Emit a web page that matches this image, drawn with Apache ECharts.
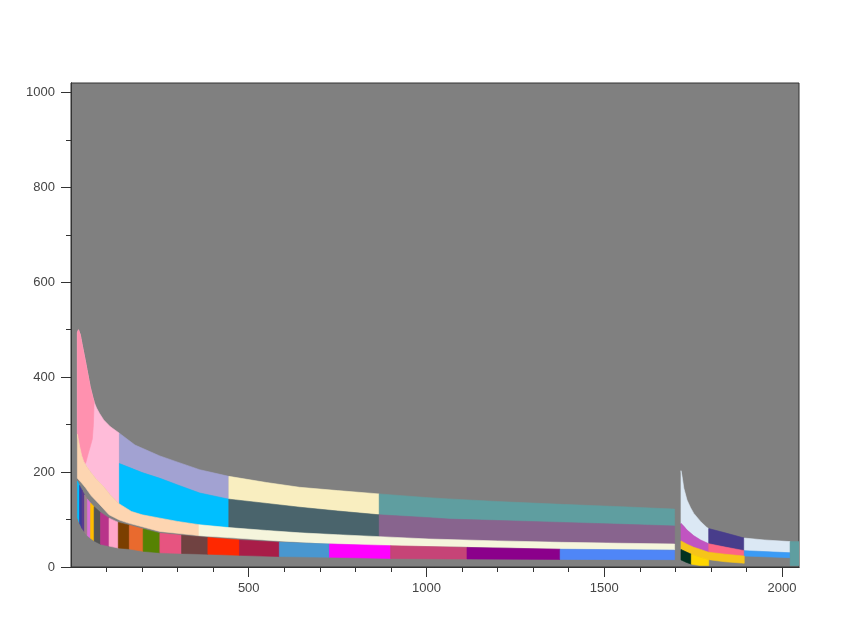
<!DOCTYPE html>
<html>
<head>
<meta charset="utf-8">
<script src="https://cdn.jsdelivr.net/npm/echarts@6/dist/echarts.min.js"></script>
<style>
html,body{margin:0;padding:0;background:#fff;}
#chart{width:864px;height:630px;}
</style>
</head>
<body>
<div id="chart"></div>
<script>
// ---- axis ticks ----
const xLabelTicks = [500, 1000, 1500, 2000];
const xMinorTicks = [100,200,300,400,600,700,800,900,1100,1200,1300,1400,1600,1700,1800,1900];
const yLabelTicks = [0, 200, 400, 600, 800, 1000];
const yMinorTicks = [100, 300, 500, 700, 900];

// ---- boundary curves, group 1 (x, value) ----
const topEnvelope1 = [[18,494],[21,500],[26,490],[31,470],[36,451],[41,432],[45,416],[50,396],[54,380],[58,368],[62,356],[66,346],[72,335],[80,324],[92,310],[110,296],[136,282],[180,257],[250,234],[300,221],[362,205],[444,191],[550,178],[643,168],[750,161],[867,154],[1007,146],[1063,143.5],[1200,138],[1380,132],[1550,127],[1698,122]];
const midTop1 = [[136,218],[170,208],[200,199],[250,187],[300,173],[362,156],[444,143],[550,134],[643,126],[750,118],[867,110],[1007,104],[1063,101],[1200,98],[1380,94],[1550,90],[1698,86.5]];
const pinkBottom1 = [[18,280],[24,255],[30,235],[36,222],[41,218],[48,238],[55,256],[60,270],[63,300],[65,346]];
const peachTop1 = [[18,280],[24,255],[30,235],[36,222],[45,211],[54,201],[70,186],[92,169],[110,152],[136,133],[170,117],[200,110],[250,103],[300,96],[362,89],[444,83],[550,77],[643,72],[750,68],[867,64],[1007,59],[1200,55],[1380,52],[1550,50],[1698,48.5]];
const peachBottom1 = [[18,187],[30,177],[41,167],[57,150],[79,133],[107,110],[136,99],[164,92],[250,75],[362,66],[444,62],[586,55],[700,50],[867,45],[1063,43],[1380,38],[1698,36]];
const stripTop1 = [[18,181],[24,172],[31,162],[38,152],[46,143],[55,135],[65,127],[83,115],[107,103],[133,94],[164,88],[203,80],[250,71],[311,67],[385,62],[474,57],[586,52],[727,48.5],[899,45],[1063,42],[1380,37.5],[1698,35.5]];
const stripBottom1 = [[18,104],[24,92],[32,80],[37,75],[43,68],[52,62],[65,55],[83,48],[107,44],[133,40],[164,38],[203,33],[250,30],[311,28.5],[385,27],[474,24.5],[586,22],[727,20.5],[899,18],[1063,17],[1380,16],[1698,15.5]];

// ---- boundary curves, group 2 ----
const topEnvelope2 = [[1716,203],[1719,191],[1724,166],[1733,141],[1743,125],[1752,113],[1771,96],[1789,83],[1794,81],[1840,72],[1894,61],[1950,57],[2023,53.5]];
const layerB2 = [[1716,92],[1724,86],[1733,78],[1752,66],[1771,57],[1794,49],[1840,42],[1894,34.5],[2023,30]];
const layerC2 = [[1716,55],[1733,48],[1752,41.5],[1771,37],[1794,31],[1840,27],[1894,23],[2023,19.7]];
const layerD2 = [[1716,37],[1733,31],[1745,27],[1771,20],[1794,15.5],[1840,11],[1894,8]];
const floor2 = [[1716,15],[1730,10],[1745,6],[1770,3],[1794,3]];
const tealTop2 = [[2023,53.5],[2048,53.5]];
const tealBottom2 = [[2023,3],[2048,3]];

// ---- blocks: [x from, x to, lower curve, upper curve] ----
const blocks = [
  [18,136, peachTop1, topEnvelope1],
  [18,65, pinkBottom1, topEnvelope1],
  [136,444, midTop1, topEnvelope1],
  [444,867, midTop1, topEnvelope1],
  [867,1698, midTop1, topEnvelope1],
  [136,444, peachTop1, midTop1],
  [444,867, peachTop1, midTop1],
  [867,1698, peachTop1, midTop1],
  [18,360, peachBottom1, peachTop1],
  [360,1698, peachBottom1, peachTop1],
  [18,24, stripBottom1, stripTop1],
  [24,31, stripBottom1, stripTop1],
  [31,38, stripBottom1, stripTop1],
  [38,46, stripBottom1, stripTop1],
  [46,55, stripBottom1, stripTop1],
  [55,65, stripBottom1, stripTop1],
  [65,83, stripBottom1, stripTop1],
  [83,107, stripBottom1, stripTop1],
  [107,133, stripBottom1, stripTop1],
  [133,164, stripBottom1, stripTop1],
  [164,203, stripBottom1, stripTop1],
  [203,250, stripBottom1, stripTop1],
  [250,311, stripBottom1, stripTop1],
  [311,385, stripBottom1, stripTop1],
  [385,474, stripBottom1, stripTop1],
  [474,586, stripBottom1, stripTop1],
  [586,727, stripBottom1, stripTop1],
  [727,899, stripBottom1, stripTop1],
  [899,1114, stripBottom1, stripTop1],
  [1114,1376, stripBottom1, stripTop1],
  [1376,1698, stripBottom1, stripTop1],
  [1716,1794, layerB2, topEnvelope2],
  [1794,1894, layerB2, topEnvelope2],
  [1894,2023, layerB2, topEnvelope2],
  [1716,1794, layerC2, layerB2],
  [1794,1894, layerC2, layerB2],
  [1894,2023, layerC2, layerB2],
  [1716,1894, layerD2, layerC2],
  [1716,1745, floor2, layerD2],
  [1745,1794, floor2, layerD2],
  [2023,2048, tealBottom2, tealTop2]
];

// ---- colours, one per block ----
const blockColors = [
  '#ffbcd9','#ff91af',
  '#a2a2d2','#f9eec0','#5f9ea0',
  '#00bfff','#4a646c','#88648e',
  '#fdd5b1','#f5f5dc',
  '#00bfff','#3f3c98','#5c3a8c','#9c7f88','#da70d6','#ffbf00','#555555','#b8338a','#ffa6c9','#7b3f00',
  '#e96a2e','#568203','#e75480','#704241','#ff2800','#a81d48','#4997d0','#ff00ff','#c64477','#8b008b','#4f86f7',
  '#dbe8f4','#483d8b','#dbe8f4',
  '#c154c1','#fd6585','#3a9bf6',
  '#f6c41a',
  '#013220','#ffd700',
  '#5f9ea0'
];

function valueAt(curve, x) {
  if (x <= curve[0][0]) return curve[0][1];
  for (let i = 1; i < curve.length; i++) {
    if (x <= curve[i][0]) {
      const a = curve[i-1], b = curve[i];
      const t = (x - a[0]) / (b[0] - a[0]);
      return a[1] + t * (b[1] - a[1]);
    }
  }
  return curve[curve.length-1][1];
}
function pathPoints(curve, x0, x1) {
  const pts = [[x0, valueAt(curve, x0)]];
  curve.forEach(p => { if (p[0] > x0 && p[0] < x1) pts.push(p); });
  pts.push([x1, valueAt(curve, x1)]);
  return pts;
}

const chart = echarts.init(document.getElementById('chart'), null, {renderer:'canvas'});
const font = {color:'#444', fontSize:13, fontFamily:'Liberation Sans, Arial, sans-serif', formatter: v => String(v)};
const lineCol = '#333';

const option = {
  backgroundColor:'#ffffff',
  animation:false,
  grid:{left:71, right:65, top:83, bottom:63, show:true, backgroundColor:'#808080', borderColor:lineCol, borderWidth:1},
  xAxis:[
    {type:'value', min:0, max:2048, position:'bottom', z:10,
     axisLine:{show:true, lineStyle:{color:lineCol}}, splitLine:{show:false},
     axisTick:{show:true, length:10, customValues:xLabelTicks, lineStyle:{color:lineCol}},
     axisLabel:Object.assign({customValues:xLabelTicks, margin:15}, font)},
    {type:'value', min:0, max:2048, position:'bottom', z:10,
     axisLine:{show:false}, splitLine:{show:false},
     axisTick:{show:true, length:5, customValues:xMinorTicks, lineStyle:{color:lineCol}},
     axisLabel:{show:false}},
    {type:'value', min:0, max:2048, position:'top', z:10,
     axisLine:{show:true, lineStyle:{color:lineCol}}, splitLine:{show:false},
     axisTick:{show:false}, axisLabel:{show:false}}
  ],
  yAxis:[
    {type:'value', min:0, max:1020, position:'left', z:10,
     axisLine:{show:true, lineStyle:{color:lineCol}}, splitLine:{show:false},
     axisTick:{show:true, length:10, customValues:yLabelTicks, lineStyle:{color:lineCol}},
     axisLabel:Object.assign({customValues:yLabelTicks, margin:16}, font)},
    {type:'value', min:0, max:1020, position:'left', z:10,
     axisLine:{show:false}, splitLine:{show:false},
     axisTick:{show:true, length:5, customValues:yMinorTicks, lineStyle:{color:lineCol}},
     axisLabel:{show:false}},
    {type:'value', min:0, max:1020, position:'right', z:10,
     axisLine:{show:true, lineStyle:{color:lineCol}}, splitLine:{show:false},
     axisTick:{show:false}, axisLabel:{show:false}}
  ],
  series:[{
    type:'custom',
    xAxisIndex:0, yAxisIndex:0,
    clip:true,
    data: blocks.map((b, i) => [b[0], 0, i]),
    encode:{x:0, y:1},
    renderItem: function(params, api) {
      const i = api.value(2);
      const b = blocks[i];
      const up = pathPoints(b[3], b[0], b[1]).map(p => api.coord(p));
      const lo = pathPoints(b[2], b[0], b[1]).map(p => api.coord(p)).reverse();
      const col = blockColors[i];
      return {
        type:'polygon',
        shape:{points: up.concat(lo)},
        style:{fill:col, stroke:col, lineWidth:0.6}
      };
    }
  }]
};
chart.setOption(option);
</script>
</body>
</html>
